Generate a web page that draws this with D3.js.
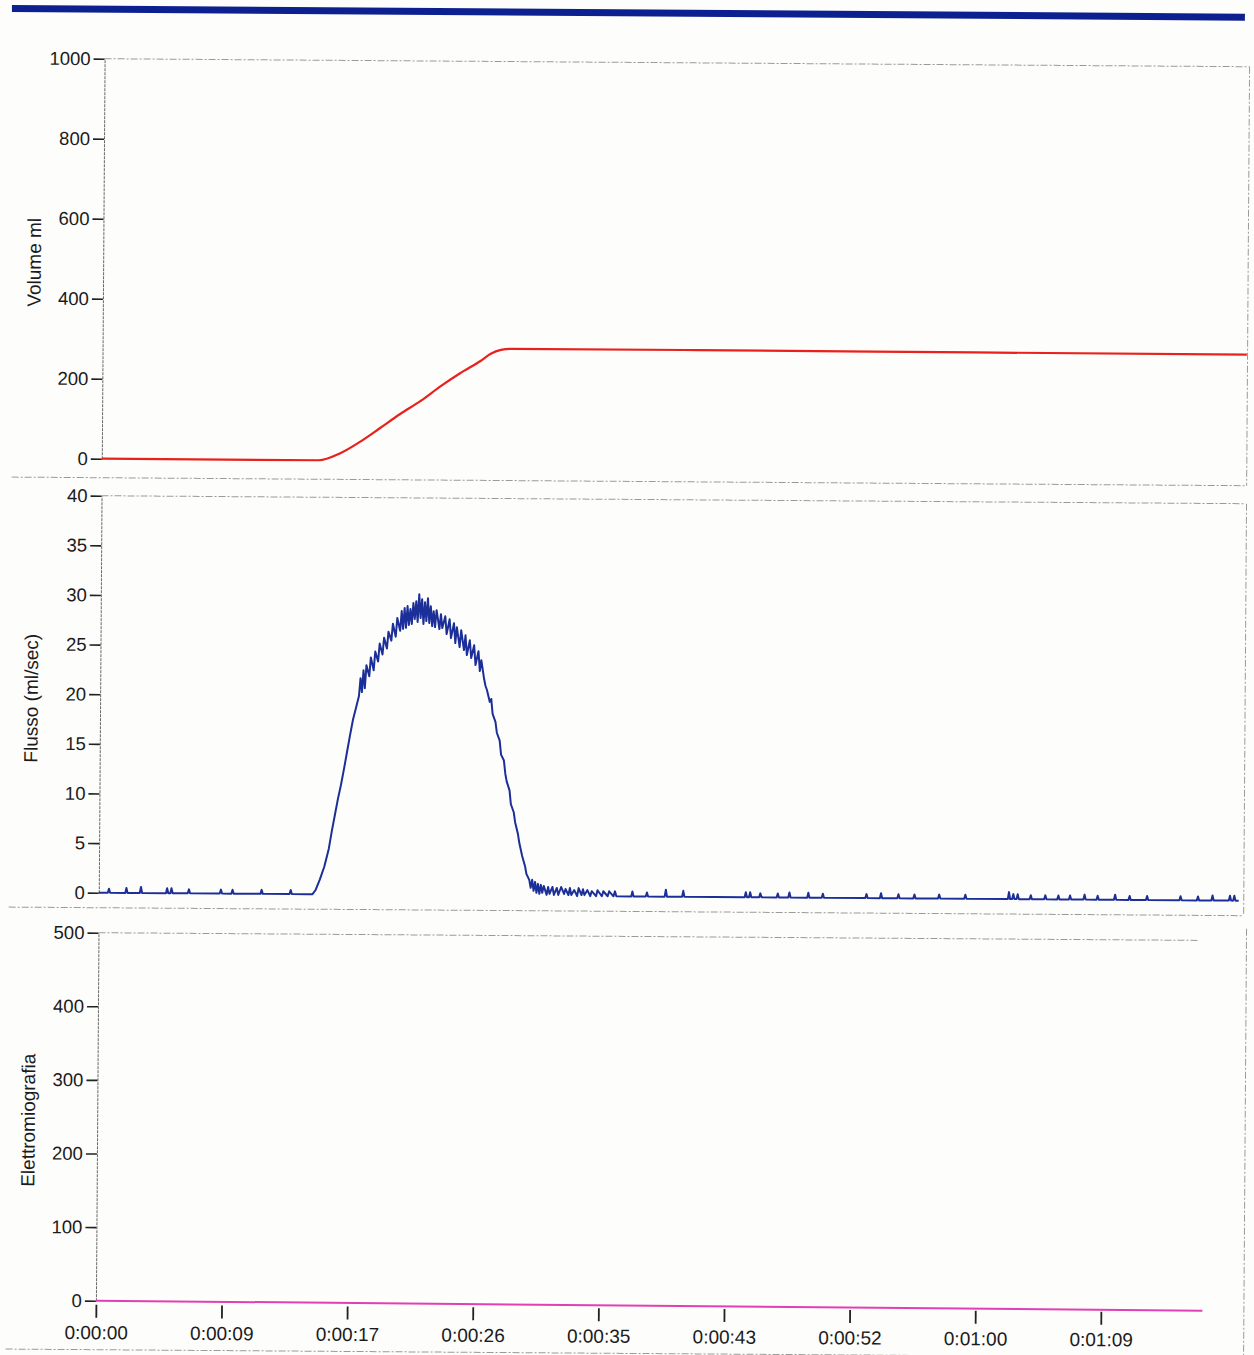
<!DOCTYPE html>
<html><head><meta charset="utf-8">
<script src="https://cdn.jsdelivr.net/npm/d3@7"></script>
<style>
body{margin:0;background:#fdfdfb}
text{font-family:"Liberation Sans",Arial,sans-serif;fill:#1b1b1b}
</style>
</head><body><svg id="c" width="1254" height="1355"></svg>
<script>
// ---------- data ----------
const volumeTicks = [0, 200, 400, 600, 800, 1000];
const flowTicks = [0, 5, 10, 15, 20, 25, 30, 35, 40];
const emgTicks = [0, 100, 200, 300, 400, 500];
const timeTickSeconds = [0, 8.64, 17.28, 25.92, 34.56, 43.2, 51.84, 60.48, 69.12];
const timeTickLabels = ["0:00:00","0:00:09","0:00:17","0:00:26","0:00:35","0:00:43","0:00:52","0:01:00","0:01:09"];

const volumeTime  = [0, 14.9, 16.4, 17.8, 19.1, 20.5, 21.9, 23.3, 24.6, 26.0, 26.7, 27.4, 28.1, 40, 60, 78.7];
const volumeValue = [0, 0,    18,   48,   81,   117,  150,  188,  220,  251,  269,  279,  282,  282, 281, 280];

// main flow curve, [time s, ml/s]
const flowCurve = [[14.4,0],[14.7,0],[14.9,0.4],[15.2,1.5],[15.5,2.8],[15.8,4.6],[16.0,6.4],[16.2,8.0],[16.4,9.6],[16.6,11.0],[16.8,12.6],[17.0,14.3],[17.2,16.0],[17.4,17.6],[17.6,18.8],[17.8,20.0],[17.9,21.8],[18.0,20.4],[18.1,22.6],[18.2,20.8],[18.3,23.1],[18.5,22.0],[18.6,23.9],[18.8,22.6],[18.9,24.5],[19.1,23.5],[19.2,25.3],[19.4,24.2],[19.5,25.9],[19.7,24.8],[19.8,26.5],[20.0,25.6],[20.1,27.3],[20.3,26.0],[20.4,27.9],[20.6,26.6],[20.7,28.6],[20.8,26.8],[20.9,28.9],[21.0,26.9],[21.1,29.1],[21.2,27.2],[21.3,28.8],[21.4,27.3],[21.5,29.4],[21.6,27.8],[21.7,29.6],[21.8,27.5],[21.9,30.3],[22.0,27.9],[22.1,29.8],[22.2,27.3],[22.3,29.5],[22.4,27.6],[22.5,29.9],[22.6,27.4],[22.7,29.1],[22.8,27.1],[22.9,28.6],[23.0,27.0],[23.1,28.7],[23.3,26.8],[23.4,28.3],[23.5,26.9],[23.7,28.1],[23.8,26.3],[24.0,27.8],[24.1,25.9],[24.3,27.4],[24.4,25.4],[24.5,27.0],[24.7,25.0],[24.8,26.7],[25.0,24.7],[25.1,26.2],[25.2,24.2],[25.4,25.7],[25.5,23.9],[25.7,25.2],[25.8,23.2],[26.0,24.6],[26.1,22.6],[26.2,23.7],[26.4,21.8],[26.5,21.1],[26.6,20.7],[26.8,19.5],[26.9,19.8],[27.0,18.3],[27.2,17.5],[27.3,16.4],[27.5,15.6],[27.6,14.2],[27.8,13.6],[27.9,12.3],[28.0,11.5],[28.2,10.6],[28.3,9.2],[28.5,8.4],[28.6,7.4],[28.8,6.2],[28.9,5.3],[29.1,4.0],[29.3,3.0],[29.4,2.2],[29.6,1.6],[29.7,0.8],[29.8,1.6],[29.9,0.5],[30.0,1.4],[30.1,0.3],[30.2,1.2],[30.3,0.2],[30.4,1.1],[30.5,0.3],[30.6,1.0],[30.8,0.1],[30.9,0.9],[31.0,0.2],[31.2,0.9],[31.3,0.1],[31.5,0.8],[31.6,0.1],[31.8,0.9],[32.0,0.2],[32.1,0.7],[32.3,0.1],[32.4,0.8],[32.5,0.1],[32.7,0.6],[32.9,0],[33.0,0.8],[33.2,0.1],[33.3,0.7],[33.4,0.1],[33.6,0.6],[33.8,0],[33.9,0.5],[34.2,0],[34.3,0.6],[34.6,0],[34.7,0.5],[35.0,0],[35.1,0.5],[35.4,0],[35.5,0.5],[35.6,0]];

// small baseline blips (time s, height ml/s)
const flowBlipTimes   = [0.7,1.9,2.9,4.7,5.0,6.2,8.4,9.2,11.2,13.2,36.7,37.7,39.0,40.2,44.5,44.8,45.5,46.7,47.5,48.8,49.8,52.8,53.8,55.0,56.1,57.8,59.6,62.6,62.9,63.2,64.1,65.1,66.0,66.8,67.8,68.7,69.9,70.9,72.1,74.4,75.6,76.6,77.8,78.1];
const flowBlipHeights = [0.4,0.5,0.6,0.5,0.5,0.4,0.4,0.4,0.4,0.4,0.5,0.4,0.7,0.6,0.5,0.5,0.4,0.4,0.5,0.5,0.4,0.4,0.5,0.4,0.4,0.4,0.4,0.7,0.5,0.5,0.4,0.4,0.4,0.4,0.5,0.4,0.5,0.4,0.4,0.4,0.4,0.5,0.5,0.5];
const flowEndTime = 78.4;

const emgTime  = [0, 76.1];
const emgValue = [0, -3];

// ---------- drawing ----------
const svg = d3.select("#c");
svg.append("rect").attr("width",1254).attr("height",1355).attr("fill","#fdfdfb");
const g = svg.append("g").attr("transform","rotate(0.4)");

const x = d3.scaleLinear().domain([0, 69.12]).range([105, 1110]);

// top blue bar
g.append("rect").attr("x",12).attr("y",5).attr("width",1233).attr("height",7).attr("fill","#0d2090");

const frame = "#9a9a9a";
function hline(y, x1, x2, col){ g.append("line").attr("x1",x1).attr("x2",x2).attr("y1",y).attr("y2",y).attr("stroke",col||frame).attr("stroke-width",1).attr("stroke-dasharray","7,2,2,2"); }
function vline(xx, y1, y2, col){ g.append("line").attr("x1",xx).attr("x2",xx).attr("y1",y1).attr("y2",y2).attr("stroke",col||frame).attr("stroke-width",1).attr("stroke-dasharray","7,2,2,2"); }

// panel frames
hline(58, 105, 1250); vline(1250, 58, 477); hline(477, 15, 1250);
hline(495, 105, 1247); vline(1250, 495, 907); hline(907, 15, 1250);
hline(932, 105, 1205); hline(1349, 15, 1250); vline(1253, 920, 1355);

function yAxis(scale, ticks, label, labelY){
  const ax = g.append("g").attr("transform","translate(105,0)")
    .call(d3.axisLeft(scale).tickValues(ticks).tickSize(11).tickSizeOuter(0).tickPadding(3).tickFormat(d3.format("d")));
  ax.select(".domain").attr("stroke","#666").attr("stroke-dasharray","3,1");
  ax.selectAll(".tick line").attr("stroke","#222").attr("stroke-width",1.6);
  ax.selectAll(".tick text").style("font-size","18.5px").style("font-family","'Liberation Sans',Arial,sans-serif").attr("fill","#1b1b1b");
  g.append("text").attr("transform",`translate(36,${labelY}) rotate(-90)`)
    .attr("text-anchor","middle").attr("dy","0.35em").style("font-size","19px").text(label);
}

// Volume panel
const yV = d3.scaleLinear().domain([0,1000]).range([458,58]);
yAxis(yV, volumeTicks, "Volume ml", 262);
g.append("path").datum(volumeTime.map((t,i)=>[t,volumeValue[i]]))
  .attr("fill","none").attr("stroke","#e8211c").attr("stroke-width",2.2)
  .attr("d", d3.line().x(d=>x(d[0])).y(d=>yV(d[1])).curve(d3.curveMonotoneX));

// Flow panel
const yF = d3.scaleLinear().domain([0,40]).range([892,495]);
yAxis(yF, flowTicks, "Flusso (ml/sec)", 698);
let flowPts = [[0,0]];
flowBlipTimes.forEach((t,i)=>{ if(t<14){ const h=flowBlipHeights[i]; flowPts.push([t-0.08,0],[t,h],[t+0.08,0]); }});
flowCurve.forEach(p=>flowPts.push(p));
flowBlipTimes.forEach((t,i)=>{ if(t>14){ const h=flowBlipHeights[i]; flowPts.push([t-0.08,0],[t,h],[t+0.08,0]); }});
flowPts.push([flowEndTime,0]);
g.append("path").datum(flowPts)
  .attr("fill","none").attr("stroke","#1c2f98").attr("stroke-width",2).attr("stroke-linejoin","round")
  .attr("d", d3.line().x(d=>x(d[0])).y(d=>yF(d[1])));

// EMG panel
const yE = d3.scaleLinear().domain([0,500]).range([1300,932]);
yAxis(yE, emgTicks, "Elettromiografia", 1120);
g.append("path").datum(emgTime.map((t,i)=>[t,emgValue[i]]))
  .attr("fill","none").attr("stroke","#e23fb6").attr("stroke-width",2)
  .attr("d", d3.line().x(d=>x(d[0])).y(d=>yE(d[1])));

// time axis
const xa = g.append("g").attr("transform","translate(0,1304)")
  .call(d3.axisBottom(x).tickValues(timeTickSeconds).tickSize(13).tickPadding(8)
        .tickFormat((d,i)=>timeTickLabels[i]));
xa.select(".domain").remove();
xa.selectAll(".tick line").attr("stroke","#222").attr("stroke-width",1.8);
xa.selectAll(".tick text").style("font-size","19px").style("font-family","'Liberation Sans',Arial,sans-serif").attr("fill","#1b1b1b");
</script></body></html>
